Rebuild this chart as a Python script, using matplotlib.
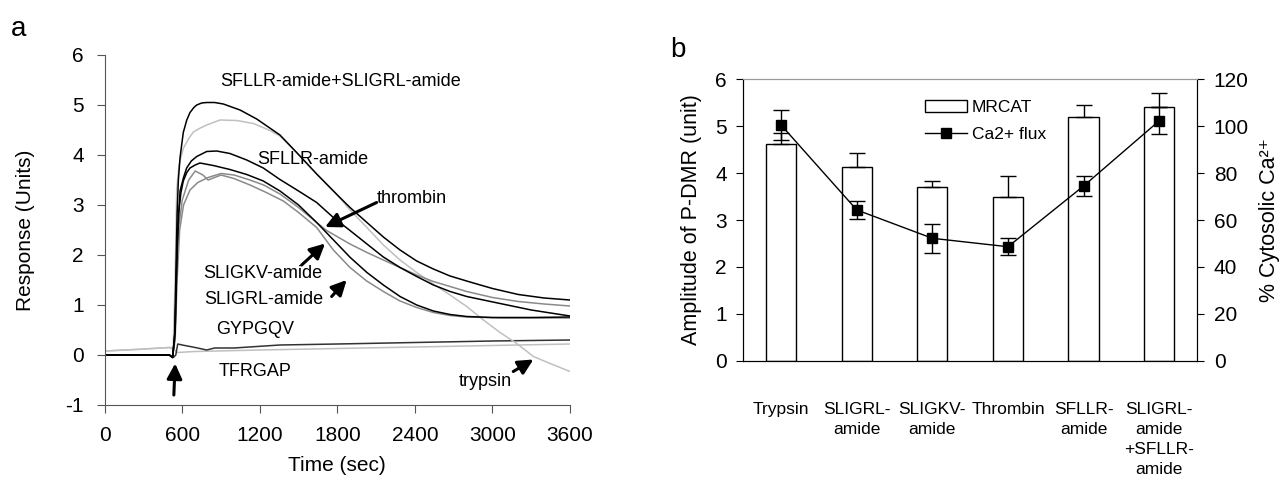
import matplotlib
matplotlib.use("Agg")
import matplotlib.pyplot as plt
import numpy as np
from matplotlib.patches import Patch
from matplotlib.lines import Line2D

plt.rcParams['font.family'] = ['Liberation Sans', 'DejaVu Sans']
plt.rcParams['axes.unicode_minus'] = False

# ---------------- Panel a: time traces ----------------
A_t = [0, 300, 500, 525, 540, 550, 560, 570, 583, 608, 635, 660, 690, 712, 750, 789, 850, 918, 1047, 1176,
       1356, 1485, 1640, 1800, 1898, 2029, 2156, 2285, 2414, 2543, 2672, 2826, 3000, 3200, 3400, 3600]
A_v = [0.0, 0.0, 0.0, -0.05, 0.3, 1.5, 2.8, 3.5, 3.95, 4.45, 4.7, 4.85, 4.95, 5.0, 5.04, 5.05, 5.05, 5.02, 4.9, 4.72,
       4.4, 4.05, 3.62, 3.2, 2.95, 2.65, 2.36, 2.1, 1.88, 1.72, 1.58, 1.46, 1.33, 1.21, 1.14, 1.1]

B_t = [0, 250, 500, 530, 545, 557, 575, 608, 650, 686, 740, 789, 892, 1021, 1150, 1279, 1356, 1485, 1640, 1800,
       1898, 2029, 2156, 2285, 2414, 2543, 2672, 2801, 2930, 3059, 3188, 3317, 3446, 3600]
B_v = [0.08, 0.11, 0.15, 0.15, 1.5, 3.3, 3.8, 4.13, 4.33, 4.46, 4.54, 4.6, 4.7, 4.69, 4.63, 4.49, 4.38, 4.05, 3.62, 3.2,
       2.9, 2.55, 2.2, 1.9, 1.65, 1.42, 1.2, 0.97, 0.7, 0.45, 0.23, -0.03, -0.17, -0.33]

C_t = [0, 300, 500, 525, 545, 560, 583, 610, 634, 670, 712, 789, 866, 969, 1099, 1227, 1356, 1500, 1640, 1769,
       1898, 2029, 2156, 2285, 2414, 2543, 2672, 2801, 3059, 3300, 3600]
C_v = [0.0, 0.0, 0.0, -0.05, 0.5, 2.2, 3.28, 3.55, 3.74, 3.88, 3.97, 4.07, 4.08, 4.03, 3.9, 3.74, 3.51, 3.28, 3.05, 2.75,
       2.49, 2.22, 1.96, 1.75, 1.57, 1.4, 1.27, 1.17, 1.03, 0.9, 0.78]

D_t = [0, 300, 500, 525, 545, 560, 570, 590, 608, 635, 660, 700, 737, 840, 969, 1099, 1227, 1356, 1500, 1640,
       1800, 1900, 2029, 2156, 2285, 2414, 2543, 2672, 2801, 3000, 3300, 3600]
D_v = [0.0, 0.0, 0.0, -0.05, 0.5, 2.0, 2.82, 3.25, 3.48, 3.65, 3.74, 3.8, 3.84, 3.79, 3.71, 3.61, 3.48, 3.28, 3.0, 2.65,
       2.22, 1.95, 1.65, 1.4, 1.17, 1.0, 0.88, 0.81, 0.77, 0.75, 0.75, 0.76]

E_t = [0, 300, 500, 525, 545, 560, 580, 610, 660, 720, 800, 900, 1000, 1124, 1230, 1356, 1500, 1640, 1717, 1898,
       2029, 2156, 2285, 2414, 2543, 2672, 2801, 3000, 3200, 3400, 3600]
E_v = [0.0, 0.0, 0.0, -0.03, 0.3, 1.5, 2.5, 3.0, 3.3, 3.45, 3.55, 3.63, 3.6, 3.5, 3.4, 3.22, 2.95, 2.65, 2.49, 2.22,
       2.05, 1.9, 1.75, 1.6, 1.47, 1.37, 1.27, 1.15, 1.07, 1.02, 0.98]

F_t = [0, 300, 500, 525, 545, 560, 575, 600, 650, 700, 760, 800, 850, 900, 1000, 1124, 1250, 1382, 1500, 1640,
       1769, 1898, 2027, 2156, 2285, 2414, 2543, 2672, 2801, 3100, 3600]
F_v = [0.0, 0.0, 0.0, -0.03, 0.4, 1.8, 2.6, 3.1, 3.5, 3.68, 3.6, 3.5, 3.55, 3.6, 3.53, 3.4, 3.25, 3.08, 2.85, 2.55,
       2.1, 1.75, 1.48, 1.27, 1.08, 0.95, 0.85, 0.79, 0.76, 0.74, 0.74]

G_t = [0, 500, 530, 550, 565, 600, 700, 789, 850, 1000, 1356, 1800, 2400, 3000, 3600]
G_v = [0.0, 0.0, -0.05, 0.0, 0.22, 0.2, 0.15, 0.1, 0.14, 0.14, 0.2, 0.22, 0.25, 0.28, 0.3]

H_t = [0, 300, 500, 540, 560, 700, 1200, 1800, 2400, 3000, 3600]
H_v = [0.08, 0.12, 0.15, 0.1, 0.05, 0.07, 0.1, 0.13, 0.16, 0.19, 0.22]

x_ticks_a = [0, 600, 1200, 1800, 2400, 3000, 3600]
y_ticks_a = [-1, 0, 1, 2, 3, 4, 5, 6]

# ---------------- Panel b: bars + Ca2+ ----------------
categories = ["Trypsin", "SLIGRL-\namide", "SLIGKV-\namide", "Thrombin", "SFLLR-\namide",
              "SLIGRL-\namide\n+SFLLR-\namide"]
mrcat = [4.61, 4.13, 3.71, 3.50, 5.19, 5.41]
mrcat_err = [0.25, 0.30, 0.13, 0.44, 0.26, 0.30]
ca_flux = [100.5, 64.3, 52.2, 48.6, 74.5, 102.3]
ca_err = [6.4, 3.7, 6.2, 3.6, 4.1, 5.7]

W, H = 1288, 483
fig = plt.figure(figsize=(W / 100, H / 100), dpi=100)

def fr(x0, y0, x1, y1):
    return [x0 / W, 1 - y1 / H, (x1 - x0) / W, (y1 - y0) / H]

TICK_FS = 15
LAB_FS = 15

# ---- panel a
ax = fig.add_axes(fr(104.7, 55, 570, 405))
lw = 1.1
ax.plot(H_t, H_v, color='#c0c0c0', lw=lw)
ax.plot(G_t, G_v, color='#333333', lw=lw)
ax.plot(B_t, B_v, color='#c0c0c0', lw=lw)
ax.plot(F_t, F_v, color='#8a8a8a', lw=lw)
ax.plot(E_t, E_v, color='#8a8a8a', lw=lw)
ax.plot(D_t, D_v, color='black', lw=lw)
ax.plot(C_t, C_v, color='black', lw=lw)
ax.plot(A_t, A_v, color='black', lw=lw)

ax.set_xlim(0, 3600)
ax.set_ylim(-1, 6)
ax.set_xticks(x_ticks_a)
ax.set_yticks(y_ticks_a)
for s in ['top', 'right']:
    ax.spines[s].set_visible(False)
for s in ['left', 'bottom']:
    ax.spines[s].set_color('#555555')
ax.tick_params(direction='out', length=6, color='#555555', labelsize=TICK_FS)
ax.tick_params(axis='x', pad=9)
ax.tick_params(axis='y', pad=9)
ax.set_xlabel('Time (sec)', fontsize=LAB_FS, labelpad=8)
ax.set_ylabel('Response (Units)', fontsize=LAB_FS, labelpad=22)

fs = 13
ax.text(1823, 5.46, 'SFLLR-amide+SLIGRL-amide', fontsize=fs, ha='center', va='center')
ax.text(1608, 3.92, 'SFLLR-amide', fontsize=fs, ha='center', va='center')
ax.text(2104, 3.13, 'thrombin', fontsize=fs, ha='left', va='center')
ax.text(1221, 1.62, 'SLIGKV-amide', fontsize=fs, ha='center', va='center')
ax.text(1227, 1.12, 'SLIGRL-amide', fontsize=fs, ha='center', va='center')
ax.text(1163, 0.5, 'GYPGQV', fontsize=fs, ha='center', va='center')
ax.text(1167, -0.33, 'TFRGAP', fontsize=fs, ha='center', va='center')
ax.text(2943, -0.53, 'trypsin', fontsize=fs, ha='center', va='center')

astyle = '-|>,head_length=0.7,head_width=0.35'
akw = dict(arrowstyle=astyle, color='black', lw=2.2, mutation_scale=13, shrinkA=0, shrinkB=0)
ax.annotate('', xy=(1705, 2.56), xytext=(2104, 3.05), arrowprops=akw)
ax.annotate('', xy=(1705, 2.23), xytext=(1524, 1.80), arrowprops=akw)
# dashed arrow: dashed shaft + solid head
ax.annotate('', xy=(1835, 1.40), xytext=(1756, 1.17),
            arrowprops=dict(arrowstyle='-', color='black', lw=2.2, linestyle=(0, (3, 2.2)),
                            shrinkA=0, shrinkB=0))
ax.annotate('', xy=(1872, 1.50), xytext=(1830, 1.385), arrowprops=akw)
ax.annotate('', xy=(3317, -0.09), xytext=(3161, -0.33), arrowprops=akw)
ax.annotate('', xy=(545, -0.17), xytext=(535, -0.80), arrowprops=akw)

fig.text(11 / W, 1 - 36 / H, 'a', fontsize=20, ha='left', va='baseline')

# ---- panel b
bx = fig.add_axes(fr(743.3, 79.3, 1197, 360.7))
x = np.arange(len(categories))
bx.bar(x, mrcat, width=0.4, color='white', edgecolor='black', linewidth=1.0, zorder=2)
bx.errorbar(x, mrcat, yerr=[np.zeros(len(x)), mrcat_err], fmt='none', ecolor='black',
            elinewidth=1.0, capsize=6, capthick=1.0, zorder=3)
bx.set_xlim(-0.5, 5.5)
bx.set_ylim(0, 6)
bx.set_yticks([0, 1, 2, 3, 4, 5, 6])
bx.set_xticks(x)
bx.set_xticklabels(categories, fontsize=12.5, linespacing=1.4, va='top')
bx.tick_params(axis='x', length=0, pad=30)
bx.tick_params(axis='y', direction='out', length=5, labelsize=TICK_FS, pad=7)
bx.set_ylabel('Amplitude of P-DMR (unit)', fontsize=LAB_FS + 0.5, labelpad=9)
bx.spines['top'].set_color('#999999')

cx = bx.twinx()
cx.errorbar(x, ca_flux, yerr=ca_err, fmt='-s', color='black', ms=6.5, lw=1.0,
            elinewidth=1.0, capsize=6, capthick=1.0, zorder=4)
cx.set_ylim(0, 120)
cx.set_yticks([0, 20, 40, 60, 80, 100, 120])
cx.tick_params(axis='y', direction='out', length=5, labelsize=TICK_FS, pad=7)
cx.set_ylabel('% Cytosolic Ca\u00b2\u207a', fontsize=LAB_FS + 0.5, labelpad=7)
cx.spines['top'].set_color('#999999')

handles = [Patch(facecolor='white', edgecolor='black', linewidth=1.0),
           Line2D([0], [0], color='black', marker='s', ms=6.5, lw=1.0)]
cx.legend(handles, ['MRCAT', 'Ca2+ flux'], loc='upper left', bbox_to_anchor=(0.385, 0.95),
          frameon=False, fontsize=12.5, handlelength=2.4, handleheight=0.7, handletextpad=0.3,
          labelspacing=0.68, borderaxespad=0)

fig.text(670 / W, 1 - 57 / H, 'b', fontsize=20, ha='left', va='baseline')

fig.savefig('out.png', dpi=100)
